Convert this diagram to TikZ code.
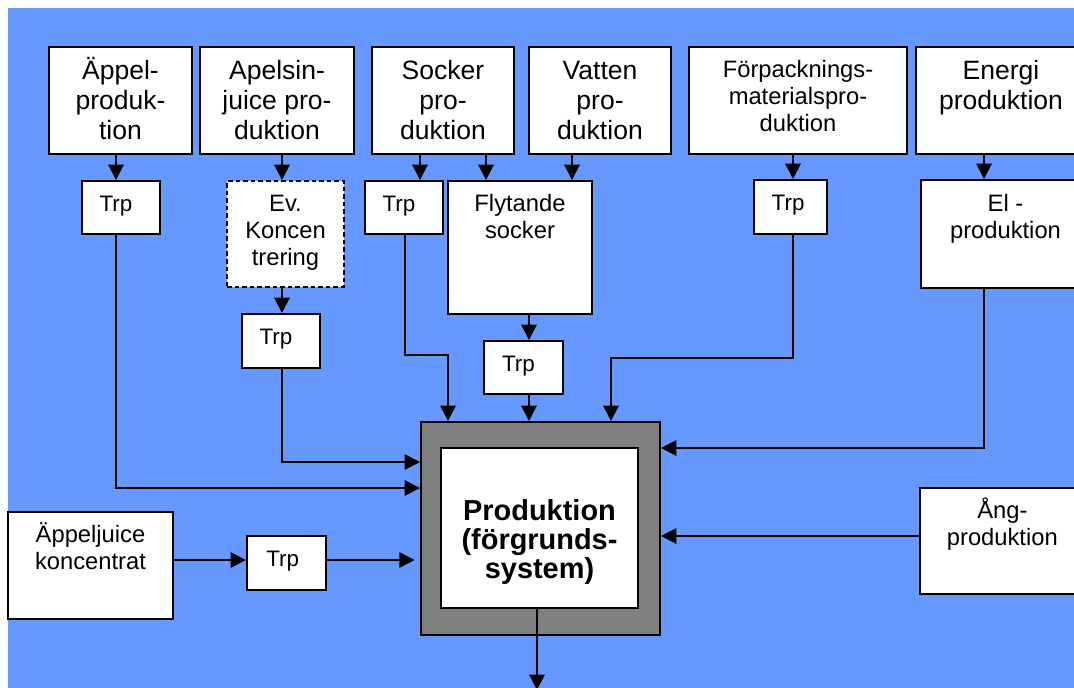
\documentclass[tikz,border=0pt]{standalone}
\usepackage{fontspec}
\setmainfont{Liberation Sans}
\usetikzlibrary{arrows.meta,positioning,fit}
\definecolor{backdrop}{HTML}{6699FF}
\definecolor{frame}{HTML}{808080}
\newcommand{\lead}{\rule{0pt}{20pt}}
\tikzset{
  box/.style={draw, fill=white, line width=1.5pt, inner sep=0pt},
  dashbox/.style={box, dashed, dash pattern=on 3.5pt off 2.2pt},
  txt/.style={inner sep=0pt, align=center},
  toptxt/.style={txt, font=\fontsize{19.9}{22.5}\selectfont},
  smalltxt/.style={txt, font=\fontsize{17.8}{20.3}\selectfont},
  trptxt/.style={txt, xshift=-3.8pt, font=\fontsize{16.8}{20}\selectfont},
  flow/.style={->, line width=1.5pt}
}

\begin{document}
\begin{tikzpicture}[x=0.75pt, y=-0.75pt, >={Triangle[length=11.5pt, width=11.5pt]}]
      \useasboundingbox (0,0) rectangle (1074,688);
      \fill[backdrop] (8,8) rectangle (1090,700);

      % top row
      \node[box, fit={(49,47) (192,154)}] (appel) {};
      \node[box, fit={(200,47) (354,154)}] (apelsin) {};
      \node[box, fit={(372,47) (514,154)}] (socker) {};
      \node[box, fit={(529,47) (671,154)}] (vatten) {};
      \node[box, fit={(689,47) (907,154)}] (forp) {};
      \node[box, fit={(916,47) (1090,154)}] (energi) {};
      \node[toptxt, below=4.75pt of appel.north] {\lead Äppel-\\produk-\\tion};
      \node[toptxt, below=4.75pt of apelsin.north] {\lead Apelsin-\\juice pro-\\duktion};
      \node[toptxt, below=4.75pt of socker.north] {\lead Socker\\pro-\\duktion};
      \node[toptxt, below=4.75pt of vatten.north] {\lead Vatten\\pro-\\duktion};
      \node[smalltxt, below=3.5pt of forp.north] {\lead Förpacknings-\\materialspro-\\duktion};
      \node[toptxt, below=4.75pt of energi.north, xshift=-1.5pt] {\lead Energi\\produktion};

      % second row
      \node[box, fit={(82,181) (160,234)}] (trpA) {};
      \node[dashbox, fit={(227,181) (344,287)}] (konc) {};
      \node[box, fit={(365,181) (443,234)}] (trpS) {};
      \node[box, fit={(448,181) (592,314)}] (flyt) {};
      \node[box, fit={(754,180) (827,234)}] (trpF) {};
      \node[box, fit={(921,180) (1090,288)}] (el) {};
      \node[trptxt, below=3.25pt of trpA.north] {\lead Trp};
      \node[smalltxt, below=3.25pt of konc.north] {\lead Ev.\\Koncen\\trering};
      \node[trptxt, below=3.25pt of trpS.north] {\lead Trp};
      \node[smalltxt, below=3.25pt of flyt.north] {\lead Flytande\\socker};
      \node[trptxt, below=3.25pt of trpF.north, xshift=2pt] {\lead Trp};
      \node[smalltxt, below=4pt of el.north] {\lead El -\\produktion};

      % third row
      \node[box, fit={(242,314) (320,368)}] (trpK) {};
      \node[box, fit={(484,341) (563,394)}] (trpFl) {};
      \node[trptxt, below=3.25pt of trpK.north] {\lead Trp};
      \node[trptxt, below=3.25pt of trpFl.north] {\lead Trp};

      % foreground system
      \node[box, fill=frame, fit={(421,422) (660,635)}] (prod) {};
      \node[box, fit={(441,448) (638,608)}] (prodin) {};
      \node[txt, below=34.75pt of prodin.north, font=\bfseries\fontsize{21.7}{21.75}\selectfont] {\lead Produktion\\(förgrunds-\\system)};

      % side inputs
      \node[box, fit={(8,512) (173,619)}] (kons) {};
      \node[box, fit={(247,536) (326,590)}] (trpJ) {};
      \node[box, fit={(920,488) (1090,594)}] (ang) {};
      \node[smalltxt, below=3.25pt of kons.north] {\lead Äppeljuice\\koncentrat};
      \node[trptxt, below=3.25pt of trpJ.north, xshift=1pt] {\lead Trp};
      \node[smalltxt, below=3.25pt of ang.north, xshift=-2pt] {\lead Ång-\\produktion};

      % lanes
      \foreach \n/\x in {lA/116, lK/282, lS/420, lF/486, lV/572, lP/793, lE/984, lT/405, lFl/529, lIn/448, lIn2/611, lOut/537}
        \coordinate (\n) at (\x,0);
      \foreach \n/\y in {hS/355, hP/358, hE/448, hK/462, hA/488, hG/536, hJ/560}
        \coordinate (\n) at (0,\y);
      \coordinate (out) at (537,690);

      % top row to second row
      \draw[flow] (appel.south -| lA) -- (trpA.north -| lA);
      \draw[flow] (apelsin.south -| lK) -- (konc.north -| lK);
      \draw[flow] (socker.south -| lS) -- (trpS.north -| lS);
      \draw[flow] (socker.south -| lF) -- (flyt.north -| lF);
      \draw[flow] (vatten.south -| lV) -- (flyt.north -| lV);
      \draw[flow] (forp.south -| lP) -- (trpF.north -| lP);
      \draw[flow] (energi.south -| lE) -- (el.north -| lE);
      \draw[flow] (konc.south -| lK) -- (trpK.north -| lK);
      \draw[flow] (flyt.south -| lFl) -- (trpFl.north -| lFl);

      % into production
      \draw[flow] (trpS.south -| lT) |- (lIn |- hS) -- (prod.north -| lIn);
      \draw[flow] (trpFl.south -| lFl) -- (prod.north -| lFl);
      \draw[flow] (trpF.south -| lP) |- (lIn2 |- hP) -- (prod.north -| lIn2);
      \draw[flow] (trpK.south -| lK) |- (prod.west |- hK);
      \draw[flow] (trpA.south -| lA) |- (prod.west |- hA);
      \draw[flow] (kons.east |- hJ) -- (trpJ.west |- hJ);
      \draw[flow] (trpJ.east |- hJ) -- ([xshift=-4pt]prod.west |- hJ);
      \draw[flow] (el.south -| lE) |- (prod.east |- hE);
      \draw[flow] (ang.west |- hG) -- (prod.east |- hG);
      \draw[flow] (prodin.south -| lOut) -- (out);
\end{tikzpicture}
\end{document}
